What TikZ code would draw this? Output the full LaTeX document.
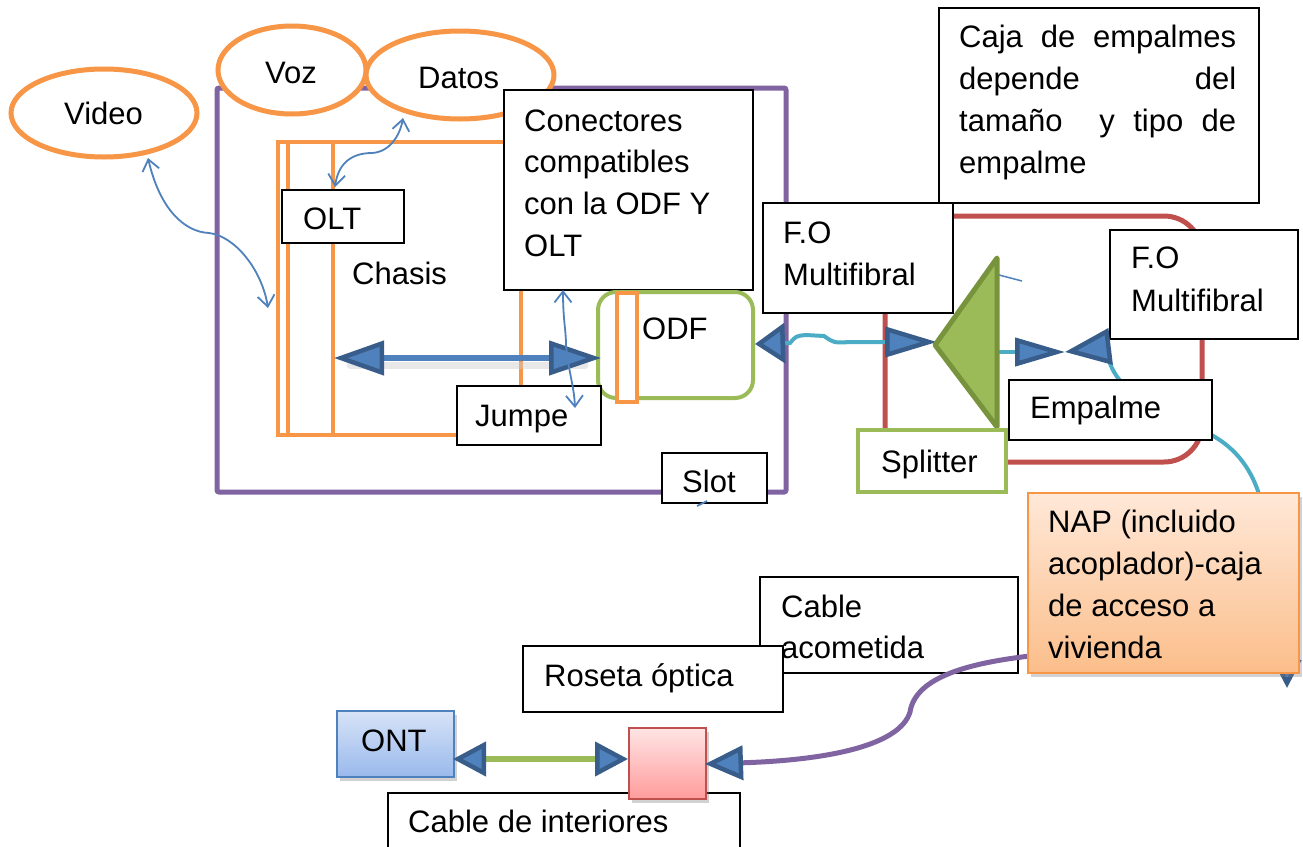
\documentclass[tikz,border=0pt]{standalone}
\usepackage{fontspec}
\setmainfont{Liberation Sans}
\usetikzlibrary{arrows.meta,shapes.geometric,shadows}
\definecolor{cpurple}{HTML}{8064A2}
\definecolor{corange}{HTML}{F79646}
\definecolor{cgreen}{HTML}{9BBB59}
\definecolor{cgreendark}{HTML}{77933C}
\definecolor{cred}{HTML}{C0504D}
\definecolor{cblue}{HTML}{4F81BD}
\definecolor{cbluedark}{HTML}{385D8A}
\definecolor{ccyan}{HTML}{4BACC6}
\definecolor{napTop}{HTML}{FFE8D8}
\definecolor{napBot}{HTML}{FBBE8A}
\definecolor{ontTop}{HTML}{D7E3F7}
\definecolor{ontBot}{HTML}{99B9EC}
\definecolor{pinkTop}{HTML}{FFE4E4}
\definecolor{pinkBot}{HTML}{FF9C9C}
\begin{document}
\begin{tikzpicture}[x=1pt,y=-1pt,
  txt/.style={anchor=base west, inner sep=0pt, font=\fontsize{31}{42}\selectfont},
  box/.style={draw=black, line width=1.8pt, fill=white, anchor=north west, inner sep=0pt},
  oval/.style={ellipse, draw=corange, line width=5pt, fill=white, inner sep=0pt},
  thinarrow/.style={draw=cblue, line width=1.8pt, {Straight Barb[length=11pt,width=17pt]}-{Straight Barb[length=11pt,width=17pt]}},
  shade/.style={drop shadow={shadow xshift=3pt, shadow yshift=-4pt, opacity=0.35}}
]
\useasboundingbox (0,0) rectangle (1303,846);
\fill[white] (0,0) rectangle (1303,846);

% ---------- central office ----------
\draw[cpurple, line width=5pt, rounded corners=2pt] (217,88) rectangle (786,492);
\draw[corange, line width=4.5pt] (278,142) rectangle (521,435);
\draw[corange, line width=4.5pt] (288,142) -- (288,435);
\draw[corange, line width=4.5pt] (333,142) -- (333,435);

\node[oval, minimum width=186pt, minimum height=88pt] (video) at (104,113) {};
\node[oval, minimum width=148pt, minimum height=88pt] (voz) at (292,70) {};
\node[oval, minimum width=188pt, minimum height=88pt] (datos) at (460,75) {};
\node[txt] (videot) at (64,124) {Video};
\node[txt] (vozt) at (265,83) {Voz};
\node[txt] (datost) at (418,88) {Datos};

\node[box, minimum width=122pt, minimum height=53pt] (olt) at (281,189) {};
\node[txt] (oltt) at (303,229) {OLT};
\node[txt] (chasis) at (352,284) {Chasis};

\node[box, minimum width=249pt, minimum height=200pt] (conn) at (503,89) {};
\node[txt] (conn1) at (524,131) {Conectores};
\node[txt] (conn2) at (524,172) {compatibles};
\node[txt] (conn3) at (524,214) {con la ODF Y};
\node[txt] (conn4) at (524,256) {OLT};

\draw[cgreen, line width=4pt, fill=white, rounded corners=18pt] (598,292) rectangle (753,398);
\draw[corange, line width=4pt, fill=white] (617,293) rectangle (637,402);
\coordinate (odfE) at (755,344);
\node[txt] (odft) at (642,339) {ODF};

\coordinate (chL) at (334,358);
\coordinate (chR) at (601,358);
\draw[black!20, line width=7pt, opacity=0.45, line cap=round] (350,365) -- (585,365);
\draw[cblue, line width=6pt, {Triangle[length=50pt,width=34pt,fill=cblue,color=cbluedark,line width=4.5pt]}-{Triangle[length=52pt,width=34pt,fill=cblue,color=cbluedark,line width=4.5pt]}] (chL) -- (chR);

\node[box, minimum width=144pt, minimum height=59pt] (jumpe) at (456,385) {};
\node[txt] (jumpet) at (475,426) {Jumpe};

\node[box, minimum width=105pt, minimum height=50pt] (slot) at (661,452) {};
\node[txt] (slott) at (682,492) {Slot};
\draw[cblue, line width=1.8pt] (697,506) -- (707,501);

% thin blue connectors
\coordinate (vA) at (148,158);
\coordinate (vB) at (268,308);
\draw[thinarrow] (vA) .. controls (160,210) and (185,232) .. (209,233) .. controls (235,236) and (262,270) .. (vB);
\coordinate (oA) at (335,187);
\coordinate (oB) at (403,118);
\draw[thinarrow] (oA) .. controls (338,165) and (350,153) .. (372,153) .. controls (390,152) and (400,135) .. (oB);
\coordinate (jA) at (563,290);
\coordinate (jB) at (575,408);
\draw[thinarrow] (jA) .. controls (563,320) and (566,330) .. (566,345) .. controls (568,370) and (574,385) .. (jB);

% ---------- splice box ----------
\draw[cred, line width=5pt, rounded corners=38pt] (885,216) rectangle (1202,462);

\node[box, minimum width=190pt, minimum height=110pt] (fol) at (762,202) {};
\node[txt] (folt1) at (783,243) {F.O};
\node[txt] (folt2) at (783,285) {Multifibral};

\node[box, minimum width=320pt, minimum height=195pt] (caja) at (938,7) {};
\node[txt] (caja1) at (959,47) {\makebox[277pt][s]{Caja de empalmes}};
\node[txt] (caja2) at (959,89) {\makebox[277pt][s]{depende del}};
\node[txt] (caja3) at (959,131) {\makebox[277pt][s]{tamaño\ \ y tipo de}};
\node[txt] (caja4) at (959,173) {empalme};

\node[box, minimum width=188pt, minimum height=109pt] (for) at (1109,229) {};
\node[txt] (fort1) at (1131,268) {F.O};
\node[txt] (fort2) at (1131,311) {Multifibral};

\coordinate (triW) at (937,342);
\coordinate (triR) at (997,352);
\coordinate (meet) at (1065,352);
\coordinate (napEnd) at (1287,688);
\draw[ccyan, line width=4pt, {Triangle[length=30pt,width=40pt,fill=cblue,color=cbluedark,line width=4.5pt]}-{Triangle[length=52pt,width=30pt,fill=cblue,color=cbluedark,line width=4.5pt]}]
  (odfE) -- (790,343) .. controls (796,336) .. (806,335) -- (824,336) .. controls (834,343) .. (850,342) -- (triW);
\draw[ccyan, line width=4pt, -{Triangle[length=50pt,width=28pt,fill=cblue,color=cbluedark,line width=4.5pt]}] (triR) -- (meet);
\draw[ccyan, line width=4pt, {Triangle[length=46pt,width=36pt,fill=cblue,color=cbluedark,line width=4.5pt]}-{Triangle[length=28pt,width=28pt,fill=cblue,color=cbluedark,line width=4.5pt]}]
  (meet) -- (1106,347) .. controls (1112,400) and (1170,410) .. (1215,437)
  .. controls (1240,452) and (1255,475) .. (1262,505) .. controls (1275,560) and (1287,620) .. (napEnd);

\draw[cgreendark, fill=cgreen, line width=5pt, line join=round] (935,345) -- (997,258) -- (997,427) -- cycle;
\draw[cblue, line width=1.5pt] (999,275) -- (1022,281);

\node[box, draw=cgreen, line width=4pt, minimum width=148pt, minimum height=62pt] (split) at (856,428) {};
\node[txt] (splitt) at (881,472) {Splitter};

\node[box, minimum width=203pt, minimum height=60pt] (empalme) at (1008,379) {};
\node[txt] (empalmet) at (1030,418) {Empalme};

% ---------- customer side ----------
\node[box, minimum width=258pt, minimum height=96pt] (cableac) at (759,576) {};
\node[box, minimum width=260pt, minimum height=66pt] (roseta) at (522,645) {};
\node[txt] (cableac1) at (781,617) {Cable};
\node[txt] (cableac2) at (781,658) {acometida};
\node[txt] (rosetat) at (544,686) {Roseta óptica};

\node[box, minimum width=352pt, minimum height=80pt] (cableint) at (387,792) {};
\node[txt] (cableintt) at (408,832) {Cable de interiores};

\node[anchor=north west, inner sep=0pt, draw=cblue, line width=2pt, top color=ontTop, bottom color=ontBot, shade, minimum width=117pt, minimum height=66pt] (ont) at (336,710) {};
\node[txt] (ontt) at (361,751) {ONT};

\node[anchor=north west, inner sep=0pt, draw=cred, line width=2pt, top color=pinkTop, bottom color=pinkBot, shade, minimum width=77pt, minimum height=71pt] (pink) at (628,727) {};

\coordinate (gL) at (453,759);
\coordinate (gR) at (628,759);
\draw[cgreen, line width=6pt, {Triangle[length=33pt,width=34pt,fill=cblue,color=cbluedark,line width=4.5pt]}-{Triangle[length=33pt,width=34pt,fill=cblue,color=cbluedark,line width=4.5pt]}] (gL) -- (gR);

\coordinate (pA) at (1030,656);
\coordinate (pB) at (705,764);
\draw[cpurple, line width=5pt, -{Triangle[length=38pt,width=34pt,fill=cblue,color=cbluedark,line width=4.5pt]}]
  (pA) .. controls (960,664) and (915,680) .. (910,712) .. controls (900,745) and (830,760) .. (pB);

\node[anchor=north west, inner sep=0pt, draw=corange, line width=2pt, top color=napTop, bottom color=napBot, shade, minimum width=271pt, minimum height=180pt] (nap) at (1027,492) {};
\node[txt] (nap1) at (1048,532) {NAP (incluido};
\node[txt] (nap2) at (1048,574) {acoplador)-caja};
\node[txt] (nap3) at (1048,616) {de acceso a};
\node[txt] (nap4) at (1048,658) {vivienda};
\end{tikzpicture}
\end{document}
